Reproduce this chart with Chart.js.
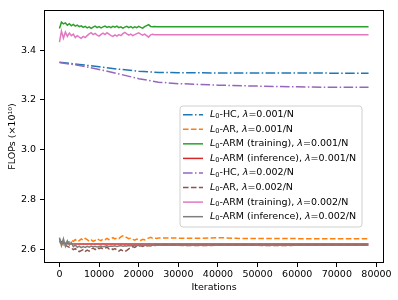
<!DOCTYPE html>
<html>
<head>
<meta charset="utf-8">
<script src="https://cdn.jsdelivr.net/npm/chart.js@4.4.1/dist/chart.umd.min.js"></script>
<style>
    body { margin: 0; background: #fff; }
    #wrap { width: 398px; height: 300px; }
</style>
</head>
<body>
<div id="wrap"><canvas id="flopsChart"></canvas></div>
<script>
// ===== Data =====
// iterations for the noisy series: every 500 up to 25000, then coarser
const iterFine = [
    0, 500, 1000, 1500, 2000, 2500, 3000, 3500, 4000, 4500,
    5000, 5500, 6000, 6500, 7000, 7500, 8000, 8500, 9000, 9500,
    10000, 10500, 11000, 11500, 12000, 12500, 13000, 13500, 14000, 14500,
    15000, 15500, 16000, 16500, 17000, 17500, 18000, 18500, 19000, 19500,
    20000, 20500, 21000, 21500, 22000, 22500, 23000, 23500, 24000, 24500,
    25000,
    30000, 35000, 40000, 45000, 50000, 55000, 60000, 65000, 70000, 75000, 78000
];
// iterations for the smooth series
const iterSmooth = [0, 5000, 10000, 15000, 20000, 25000, 30000, 40000, 50000, 60000, 70000, 78000];
const iterRed = [0, 1000, 2000, 5000, 10000, 20000, 40000, 78000];

const hc001 = [3.351, 3.342, 3.333, 3.323, 3.315, 3.310, 3.309, 3.308, 3.308, 3.308, 3.307, 3.307];
const hc002 = [3.350, 3.338, 3.322, 3.304, 3.285, 3.271, 3.265, 3.259, 3.255, 3.252, 3.250, 3.250];

const ar001 = [
    2.628, 2.621, 2.617, 2.624, 2.631, 2.627, 2.635, 2.631, 2.638, 2.630,
    2.634, 2.641, 2.636, 2.643, 2.638, 2.632, 2.637, 2.631, 2.635, 2.641,
    2.637, 2.634, 2.640, 2.638, 2.643, 2.638, 2.641, 2.646, 2.641, 2.645,
    2.642, 2.649, 2.653, 2.650, 2.646, 2.642, 2.644, 2.639, 2.636, 2.640,
    2.637, 2.635, 2.639, 2.637, 2.641, 2.644, 2.647, 2.644, 2.645, 2.643,
    2.644,
    2.644, 2.643, 2.646, 2.643, 2.642, 2.642, 2.642, 2.641, 2.642, 2.641, 2.641
];
const armTrain001 = [
    3.487, 3.512, 3.505, 3.509, 3.500, 3.506, 3.498, 3.503, 3.496, 3.500,
    3.494, 3.497, 3.491, 3.495, 3.489, 3.493, 3.487, 3.492, 3.496, 3.490,
    3.494, 3.489, 3.493, 3.496, 3.491, 3.494, 3.490, 3.495, 3.492, 3.496,
    3.490, 3.493, 3.488, 3.492, 3.495, 3.490, 3.494, 3.489, 3.493, 3.490,
    3.495, 3.491, 3.488, 3.494, 3.498, 3.502, 3.495, 3.494, 3.495, 3.494,
    3.494,
    3.494, 3.494, 3.494, 3.494, 3.494, 3.494, 3.494, 3.494, 3.494, 3.494, 3.494
];
const armInfer001 = [2.632, 2.624, 2.621, 2.620, 2.620, 2.620, 2.620, 2.620];
const ar002 = [
    2.640, 2.628, 2.621, 2.616, 2.611, 2.607, 2.604, 2.598, 2.602, 2.595,
    2.590, 2.594, 2.598, 2.591, 2.596, 2.592, 2.600, 2.604, 2.598, 2.606,
    2.602, 2.605, 2.600, 2.604, 2.608, 2.601, 2.604, 2.598, 2.602, 2.596,
    2.592, 2.598, 2.593, 2.590, 2.595, 2.601, 2.606, 2.610, 2.607, 2.612,
    2.610, 2.614, 2.611, 2.615, 2.612, 2.614, 2.613, 2.615, 2.614, 2.615,
    2.615,
    2.615, 2.614, 2.615, 2.615, 2.615, 2.614, 2.615, 2.615, 2.615, 2.615, 2.615
];
const armTrain002 = [
    3.432, 3.476, 3.448, 3.472, 3.455, 3.468, 3.458, 3.464, 3.450, 3.458,
    3.452, 3.447, 3.455, 3.450, 3.458, 3.465, 3.470, 3.462, 3.467, 3.460,
    3.456, 3.463, 3.468, 3.462, 3.470, 3.464, 3.458, 3.455, 3.461, 3.456,
    3.462, 3.458, 3.466, 3.471, 3.465, 3.460, 3.464, 3.458, 3.462, 3.466,
    3.469, 3.464, 3.460, 3.464, 3.458, 3.452, 3.461, 3.463, 3.462, 3.462,
    3.462,
    3.462, 3.462, 3.462, 3.462, 3.462, 3.462, 3.462, 3.462, 3.462, 3.462, 3.462
];
const armInfer002 = [
    2.646, 2.614, 2.641, 2.611, 2.633, 2.617, 2.626, 2.610, 2.616, 2.607,
    2.612, 2.606, 2.610, 2.607, 2.611, 2.608, 2.612, 2.609, 2.611, 2.608,
    2.610, 2.612, 2.609, 2.611, 2.613, 2.610, 2.612, 2.611, 2.613, 2.610,
    2.612, 2.614, 2.611, 2.613, 2.612, 2.614, 2.613, 2.615, 2.614, 2.613,
    2.615, 2.614, 2.615, 2.614, 2.615, 2.615, 2.614, 2.615, 2.615, 2.615,
    2.615,
    2.615, 2.615, 2.615, 2.615, 2.615, 2.615, 2.615, 2.615, 2.615, 2.615, 2.615
];

const methodNames = ['HC', 'AR', 'ARM (training)', 'ARM (inference)', 'HC', 'AR', 'ARM (training)', 'ARM (inference)'];
const lambdaLabels = ['0.001', '0.001', '0.001', '0.001', '0.002', '0.002', '0.002', '0.002'];

const xTicks = [0, 10000, 20000, 30000, 40000, 50000, 60000, 70000, 80000];
const yTicks = [2.6, 2.8, 3.0, 3.2, 3.4];

// ===== Styles =====
const FONT = '"DejaVu Sans", sans-serif';
const AXIS_SIZE = 9.5;
const LEG_SIZE = 9.5;
const DASHDOT = [9.6, 2.4, 1.5, 2.4];
const DASHED = [5.55, 2.4];

function toPoints(xs, ys) {
    return xs.map((x, i) => ({ x: x, y: ys[i] }));
}

const seriesDefs = [
    { xs: iterSmooth, ys: hc001, color: '#1f77b4', dash: DASHDOT },
    { xs: iterFine, ys: ar001, color: '#ff7f0e', dash: DASHED },
    { xs: iterFine, ys: armTrain001, color: '#2ca02c', dash: [] },
    { xs: iterRed, ys: armInfer001, color: '#d62728', dash: [] },
    { xs: iterSmooth, ys: hc002, color: '#9467bd', dash: DASHDOT },
    { xs: iterFine, ys: ar002, color: '#8c564b', dash: DASHED },
    { xs: iterFine, ys: armTrain002, color: '#e377c2', dash: [] },
    { xs: iterFine, ys: armInfer002, color: '#7f7f7f', dash: [] }
];

const datasets = seriesDefs.map((s, i) => ({
    label: methodNames[i] + ' ' + lambdaLabels[i],
    data: toPoints(s.xs, s.ys),
    borderColor: s.color,
    backgroundColor: s.color,
    borderDash: s.dash,
    borderWidth: 1.5,
    pointRadius: 0,
    tension: 0,
    fill: false,
    order: seriesDefs.length - i   // later series drawn on top, like matplotlib
}));

// ===== Frame + legend plugin =====
function drawLegendLabel(ctx, x, y, method, lam) {
    const parts = [
        ['italic ' + LEG_SIZE + 'px ' + FONT, 'L', 0],
        [(LEG_SIZE * 0.7) + 'px ' + FONT, '0', 2],
        [LEG_SIZE + 'px ' + FONT, '-' + method + ', ', 0],
        ['italic ' + LEG_SIZE + 'px ' + FONT, 'λ', 0],
        [LEG_SIZE + 'px ' + FONT, '=' + lam + '/N', 0]
    ];
    let cx = x;
    parts.forEach(p => {
        ctx.font = p[0];
        ctx.fillText(p[1], cx, y + p[2]);
        cx += ctx.measureText(p[1]).width;
    });
}

const frameAndLegend = {
    id: 'frameAndLegend',
    afterDatasetsDraw(chart) {
        const { ctx, chartArea: a } = chart;
        ctx.save();

        // axes frame
        ctx.strokeStyle = '#000';
        ctx.lineWidth = 1;
        ctx.setLineDash([]);
        ctx.strokeRect(Math.round(a.left) + 0.5, Math.round(a.top) + 0.5,
            Math.round(a.right - a.left) - 1, Math.round(a.bottom - a.top) - 1);

        // legend box
        const bx = 180, by = 106, bw = 182, bh = 121, r = 3;
        ctx.beginPath();
        ctx.moveTo(bx + r, by);
        ctx.arcTo(bx + bw, by, bx + bw, by + bh, r);
        ctx.arcTo(bx + bw, by + bh, bx, by + bh, r);
        ctx.arcTo(bx, by + bh, bx, by, r);
        ctx.arcTo(bx, by, bx + bw, by, r);
        ctx.closePath();
        ctx.fillStyle = 'rgba(255,255,255,0.8)';
        ctx.fill();
        ctx.strokeStyle = '#d0d0d0';
        ctx.stroke();

        const rowH = 14.57;
        const firstY = 114.7;
        chart.data.datasets.forEach((ds, i) => {
            const y = firstY + i * rowH;
            ctx.beginPath();
            ctx.setLineDash(ds.borderDash);
            ctx.strokeStyle = ds.borderColor;
            ctx.lineWidth = 1.5;
            ctx.moveTo(183, y);
            ctx.lineTo(203, y);
            ctx.stroke();
            ctx.setLineDash([]);
            ctx.fillStyle = '#000';
            ctx.textBaseline = 'middle';
            drawLegendLabel(ctx, 210, y, methodNames[i], lambdaLabels[i]);
        });
        ctx.restore();
    }
};

// ===== Chart =====
const ctx = document.getElementById('flopsChart');
new Chart(ctx, {
    type: 'line',
    data: { datasets: datasets },
    plugins: [frameAndLegend],
    options: {
        responsive: true,
        maintainAspectRatio: false,
        animation: false,
        devicePixelRatio: 1,
        layout: { padding: { left: 0, right: 14, top: 10, bottom: 0 } },
        plugins: {
            legend: { display: false },
            tooltip: { enabled: false }
        },
        scales: {
            x: {
                type: 'linear',
                min: -3900,
                max: 81900,
                afterBuildTicks: scale => { scale.ticks = xTicks.map(v => ({ value: v })); },
                afterFit: scale => { scale.height = 37; },
                ticks: {
                    color: '#000',
                    font: { family: FONT, size: AXIS_SIZE },
                    padding: 2,
                    maxRotation: 0,
                    autoSkip: false,
                    callback: v => String(v)
                },
                grid: { drawOnChartArea: false, drawTicks: true, tickLength: 4, color: '#000' },
                border: { display: false },
                title: {
                    display: true,
                    text: 'Iterations',
                    color: '#000',
                    font: { family: FONT, size: AXIS_SIZE },
                    padding: { top: 0, bottom: 7 }
                }
            },
            y: {
                type: 'linear',
                min: 2.544,
                max: 3.561,
                afterBuildTicks: scale => { scale.ticks = yTicks.map(v => ({ value: v })); },
                afterFit: scale => { scale.width = 44; },
                ticks: {
                    color: '#000',
                    font: { family: FONT, size: AXIS_SIZE },
                    padding: 4,
                    autoSkip: false,
                    callback: v => v.toFixed(1)
                },
                grid: { drawOnChartArea: false, drawTicks: true, tickLength: 4, color: '#000' },
                border: { display: false },
                title: {
                    display: true,
                    text: 'FLOPs (×10¹⁰)',
                    color: '#000',
                    font: { family: FONT, size: AXIS_SIZE },
                    padding: { top: 7, bottom: 0 }
                }
            }
        }
    }
});
</script>
</body>
</html>
